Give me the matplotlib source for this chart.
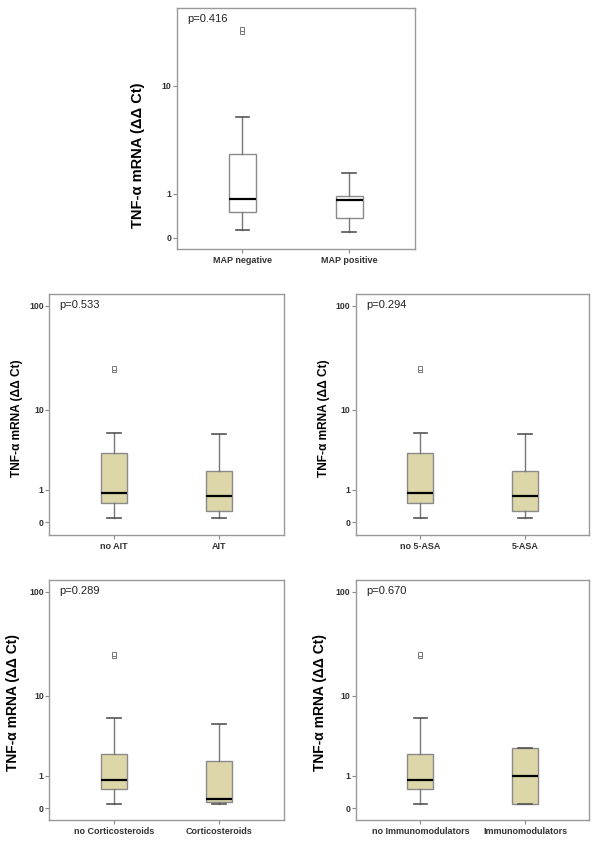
import numpy as np
import matplotlib
matplotlib.use("Agg")
from matplotlib import pyplot as plt

plt.rcParams['font.family'] = ['Liberation Sans', 'DejaVu Sans']

##################################################
# Data (values in delta-delta Ct)
# each group: [lower whisker, Q1, median, Q3, upper whisker]
map_labels = ["MAP negative", "MAP positive"]
map_stats = [[0.12, 0.50, 0.84, 2.73, 5.77],
             [0.09, 0.37, 0.81, 0.94, 1.79]]
map_fliers = [[24.8, 26.0], []]
map_p = "p=0.416"

ait_labels = ["no AIT", "AIT"]
ait_stats = [[0.10, 0.52, 0.86, 3.36, 5.77],
             [0.09, 0.27, 0.74, 1.97, 5.53]]
ait_fliers = [[24.8, 26.0], []]
ait_p = "p=0.533"

asa_labels = ["no 5-ASA", "5-ASA"]
asa_stats = [[0.10, 0.52, 0.86, 3.36, 5.77],
             [0.09, 0.27, 0.74, 1.97, 5.53]]
asa_fliers = [[24.8, 26.0], []]
asa_p = "p=0.294"

cort_labels = ["no Corticosteroids", "Corticosteroids"]
cort_stats = [[0.10, 0.49, 0.83, 2.17, 5.84],
              [0.09, 0.14, 0.20, 1.71, 5.06]]
cort_fliers = [[24.8, 26.0], []]
cort_p = "p=0.289"

imm_labels = ["no Immunomodulators", "Immunomodulators"]
imm_stats = [[0.08, 0.49, 0.81, 2.15, 5.84],
             [0.10, 0.10, 1.00, 2.63, 2.63]]
imm_fliers = [[24.8, 26.0], []]
imm_p = "p=0.670"

YLABEL = "TNF-\u03b1 mRNA (\u0394\u0394 Ct)"
BOX_COLOR = "#ddd6a9"
GREY = "#8a8a8a"


##################################################
def fwd(y):
    return np.log10(np.clip(y, -0.99, None) + 1)


def inv(y):
    return 10 ** y - 1


def draw_panel(ax, labels, stats, fliers, ptext, fill, ticks, ylim,
               label_size, label_xy):
    bstats = []
    for lab, s, f in zip(labels, stats, fliers):
        bstats.append({"label": lab, "whislo": s[0], "q1": s[1],
                       "med": s[2], "q3": s[3], "whishi": s[4],
                       "fliers": f})
    ax.set_yscale("function", functions=(fwd, inv))
    ax.bxp(bstats, positions=[1, 2], widths=0.25, capwidths=0.125,
           patch_artist=True,
           boxprops=dict(facecolor=fill, edgecolor=GREY, linewidth=1),
           medianprops=dict(color="black", linewidth=1.6),
           whiskerprops=dict(color="#777777", linewidth=1),
           capprops=dict(color="#555555", linewidth=1.2),
           flierprops=dict(marker="s", markersize=3.5,
                           markerfacecolor="white",
                           markeredgecolor="#777777", markeredgewidth=0.7))
    ax.set_xlim(0.384, 2.616)
    ax.set_ylim(ylim)
    ax.set_yticks(ticks)
    ax.set_yticklabels([str(t) for t in ticks])
    ax.yaxis.set_minor_locator(matplotlib.ticker.NullLocator())
    ax.tick_params(axis="y", length=3, color=GREY, labelsize=6.3,
                   labelcolor="#333333", pad=1)
    ax.tick_params(axis="x", length=3, color=GREY, labelsize=6.5,
                   labelcolor="#333333", pad=2)
    for lab in ax.get_xticklabels() + ax.get_yticklabels():
        lab.set_fontweight("bold")
    for sp in ax.spines.values():
        sp.set_color("#999999")
        sp.set_linewidth(1)
    ax.text(0.043, 0.955, ptext, transform=ax.transAxes, fontsize=8,
            va="center", ha="left", color="#222222")
    ax.set_ylabel(YLABEL, fontsize=label_size, fontweight="bold")
    ax.yaxis.set_label_coords(*label_xy)


fig = plt.figure(figsize=(6, 8.5), dpi=100)

ax1 = fig.add_axes([0.2945, 0.7067, 0.397, 0.2835])
draw_panel(ax1, map_labels, map_stats, map_fliers, map_p, "white",
           [0, 1, 10], (inv(-0.080), inv(1.574)), 10.5, (-0.133, 0.39))

ax2 = fig.add_axes([0.0822, 0.3706, 0.3907, 0.2835])
draw_panel(ax2, ait_labels, ait_stats, ait_fliers, ait_p, BOX_COLOR,
           [0, 1, 10, 100], (inv(-0.117), inv(2.115)), 8.6, (-0.112, 0.485))

ax3 = fig.add_axes([0.5933, 0.3706, 0.389, 0.2835])
draw_panel(ax3, asa_labels, asa_stats, asa_fliers, asa_p, BOX_COLOR,
           [0, 1, 10, 100], (inv(-0.117), inv(2.115)), 8.6, (-0.112, 0.485))

ax4 = fig.add_axes([0.0822, 0.0353, 0.3907, 0.2824])
draw_panel(ax4, cort_labels, cort_stats, cort_fliers, cort_p, BOX_COLOR,
           [0, 1, 10, 100], (inv(-0.111), inv(2.115)), 10, (-0.125, 0.49))

ax5 = fig.add_axes([0.5933, 0.0353, 0.389, 0.2824])
draw_panel(ax5, imm_labels, imm_stats, imm_fliers, imm_p, BOX_COLOR,
           [0, 1, 10, 100], (inv(-0.111), inv(2.115)), 10, (-0.125, 0.49))

plt.savefig("out.png", dpi=100)
